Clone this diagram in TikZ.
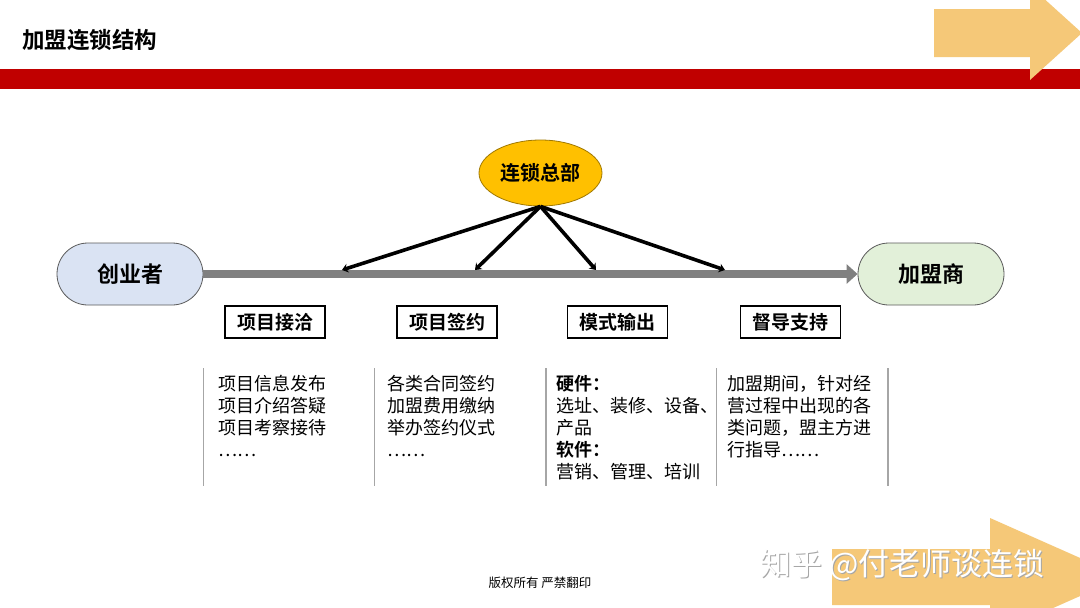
\documentclass[tikz,border=0pt]{standalone}
\usepackage{fontspec}
\setmainfont{Noto Sans CJK SC}[BoldFont={Noto Sans CJK SC Bold}]
\usetikzlibrary{shapes.geometric,arrows.meta}
\definecolor{bandred}{RGB}{192,0,0}
\definecolor{arrorange}{RGB}{245,200,120}
\definecolor{hqgold}{RGB}{255,192,0}
\definecolor{hqedge}{RGB}{160,120,0}
\definecolor{bluefill}{RGB}{218,227,243}
\definecolor{greenfill}{RGB}{226,240,217}
\definecolor{bargray}{RGB}{128,128,128}
\definecolor{sepgray}{RGB}{166,166,166}
\definecolor{edgegray}{RGB}{90,90,90}
\tikzset{
  endnode/.style={rectangle, rounded corners=31pt, minimum width=146pt, minimum height=62pt,
    draw=edgegray, line width=0.8pt, inner sep=0pt, font=\bfseries\fontsize{22}{26}\selectfont},
  hqnode/.style={ellipse, minimum width=123pt, minimum height=66pt, fill=hqgold, draw=hqedge,
    line width=0.8pt, inner sep=0pt, font=\bfseries\fontsize{20}{24}\selectfont},
  stagebox/.style={rectangle, draw=black, line width=1.1pt, minimum width=100pt, minimum height=32pt,
    inner sep=0pt, font=\bfseries\fontsize{19}{22}\selectfont},
  coltext/.style={anchor=north west, inner sep=0pt, align=left, font=\fontsize{18}{22}\selectfont},
  sepline/.style={draw=sepgray, line width=1.3pt},
  flowbar/.style={draw=bargray, line width=8pt, -{Triangle[length=11pt,width=19pt]}},
  spoke/.style={draw=black, line width=3.6pt, -{Stealth[length=6pt,width=9pt]}},
  bigarrow/.style={fill=arrorange, draw=none}
}
\begin{document}
\begin{tikzpicture}[x=1pt,y=-1pt]
\useasboundingbox (0,0) rectangle (1080,608);
\clip (0,0) rectangle (1080,608);
\fill[white] (0,0) rectangle (1080,608);

% title and red band
\node[anchor=west, inner sep=0pt, font=\bfseries\fontsize{22.5}{26}\selectfont] (title) at (22,40) {加盟连锁结构};
\fill[bandred] (0,69) rectangle (1080,89);
\fill[bigarrow] (934,9) -- (1030,9) -- (1030,-14) -- (1082,33) -- (1030,80) -- (1030,57) -- (934,57) -- cycle;

% bottom-right arrow
\fill[bigarrow] (832,549) -- (990,549) -- (990,518) -- (1123,577) -- (990,636) -- (990,605) -- (832,605) -- cycle;

% main nodes
\node[endnode, fill=bluefill] (cy) at (130,274) {创业者};
\node[endnode, fill=greenfill] (jm) at (931,274) {加盟商};
\node[hqnode] (hq) at (540.5,173) {连锁总部};

\draw[flowbar] (cy.east) -- (jm.west);

\coordinate (t1) at (342,270);
\coordinate (t2) at (475,270);
\coordinate (t3) at (596,270);
\coordinate (t4) at (725,270);
\foreach \t in {t1,t2,t3,t4} \draw[spoke] (hq.south) -- (\t);

% stage labels
\node[stagebox] (s1) at (275,322) {项目接洽};
\node[stagebox] (s2) at (447,322) {项目签约};
\node[stagebox] (s3) at (617.5,322) {模式输出};
\node[stagebox] (s4) at (790.5,322) {督导支持};

% separators
\foreach \xx in {203.5,374.5,546,716.5,888} \draw[sepline] (\xx,368) -- (\xx,486);

% column texts
\node[coltext] (c1) at (218,375) {项目信息发布\\项目介绍答疑\\项目考察接待\\……};
\node[coltext] (c2) at (387,375) {各类合同签约\\加盟费用缴纳\\举办签约仪式\\……};
\node[coltext] (c3) at (556,375) {\textbf{硬件：}\\选址、装修、设备、\\产品\\\textbf{软件：}\\营销、管理、培训};
\node[coltext] (c4) at (727,375) {加盟期间，针对经\\营过程中出现的各\\类问题，盟主方进\\行指导……};

% footer
\node[inner sep=0pt, font=\fontsize{12.5}{14}\selectfont] (copy) at (540,583) {版权所有\ 严禁翻印};

% watermark
\node[anchor=west, inner sep=0pt, text=gray!70, font=\fontsize{31}{34}\selectfont] (wmshadow) at (761,566) {知乎 @付老师谈连锁};
\node[anchor=west, inner sep=0pt, text=white, font=\fontsize{31}{34}\selectfont] (wm) at (760,565) {知乎 @付老师谈连锁};
\end{tikzpicture}
\end{document}
